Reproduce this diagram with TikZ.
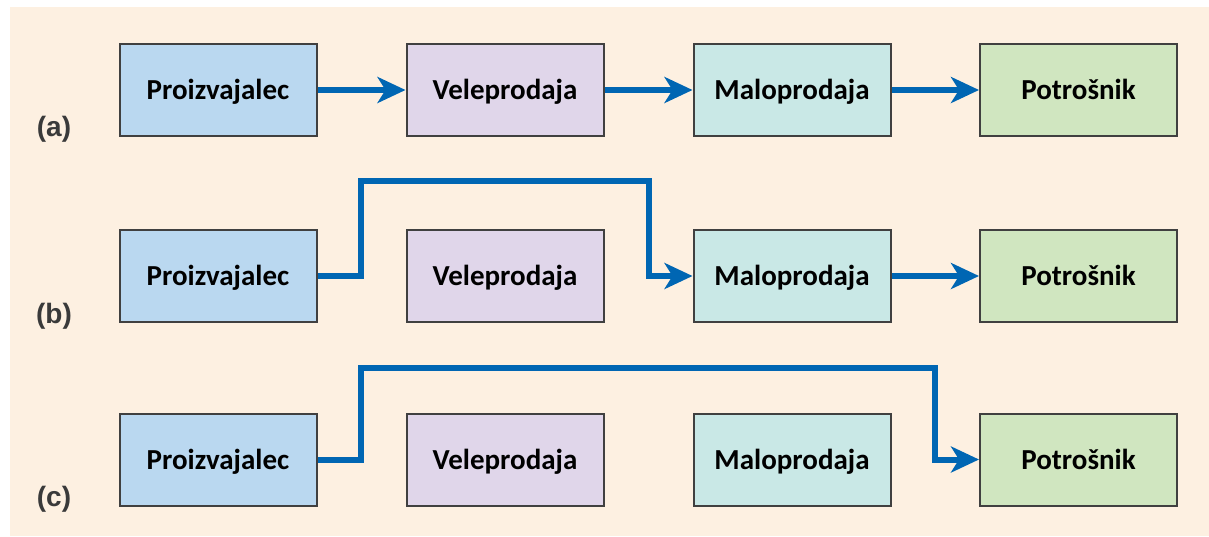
\documentclass[tikz,border=0pt]{standalone}
\usepackage{fontspec}
\setmainfont{Carlito}
\newfontfamily\labelfont{Liberation Sans}
\usetikzlibrary{arrows.meta}
\definecolor{panel}{HTML}{FDF0E1}
\definecolor{prodblue}{HTML}{BAD8F0}
\definecolor{wholesale}{HTML}{E0D6EA}
\definecolor{retail}{HTML}{C9E8E6}
\definecolor{consumer}{HTML}{D0E6C0}
\definecolor{flowblue}{HTML}{0066B3}
\definecolor{edge}{HTML}{404040}
\definecolor{rowlabel}{HTML}{3A3A3A}
\tikzset{
  stage/.style={draw=edge, line width=2pt, rectangle, minimum width=197pt,
    minimum height=92pt, inner sep=0pt, text height=19pt, text depth=0pt,
    font=\fontsize{29}{33}\selectfont\bfseries},
  flow/.style={draw=flowblue, line width=6pt, line join=miter,
    -{Stealth[length=28pt,width=26pt,inset=8pt]}},
  rowtag/.style={font=\labelfont\fontsize{28}{32}\selectfont\bfseries, text=rowlabel}
}
\begin{document}
\begin{tikzpicture}[x=1pt,y=-1pt]
  \useasboundingbox (0,0) rectangle (1209,536);
  \fill[white] (0,0) rectangle (1209,536);
  \fill[panel] (10,7) rectangle (1209,536);

  % three distribution chains, one per row
  \foreach \r/\y in {a/90, b/276, c/459.5} {
    \node[stage, fill=prodblue]  (\r1) at (218,\y)    {Proizvajalec};
    \node[stage, fill=wholesale] (\r2) at (505,\y)    {Veleprodaja};
    \node[stage, fill=retail]    (\r3) at (792,\y)    {Maloprodaja};
    \node[stage, fill=consumer]  (\r4) at (1078.5,\y) {Potrošnik};
  }

  \node[rowtag] (ta) at (54,129) {(a)};
  \node[rowtag] (tb) at (54,316) {(b)};
  \node[rowtag] (tc) at (54,499) {(c)};

  % (a) full chain
  \draw[flow] (a1.east) -- (a2.west);
  \draw[flow] (a2.east) -- (a3.west);
  \draw[flow] (a3.east) -- (a4.west);

  % (b) bypassing the wholesaler
  \coordinate (bl) at (361,181);
  \coordinate (br) at (649,181);
  \draw[flow] (b1.east) -| (bl) -- (br) |- (b3.west);
  \draw[flow] (b3.east) -- (b4.west);

  % (c) direct to the consumer
  \coordinate (cl) at (361,368);
  \coordinate (cr) at (935,368);
  \draw[flow] (c1.east) -| (cl) -- (cr) |- (c4.west);
\end{tikzpicture}
\end{document}
